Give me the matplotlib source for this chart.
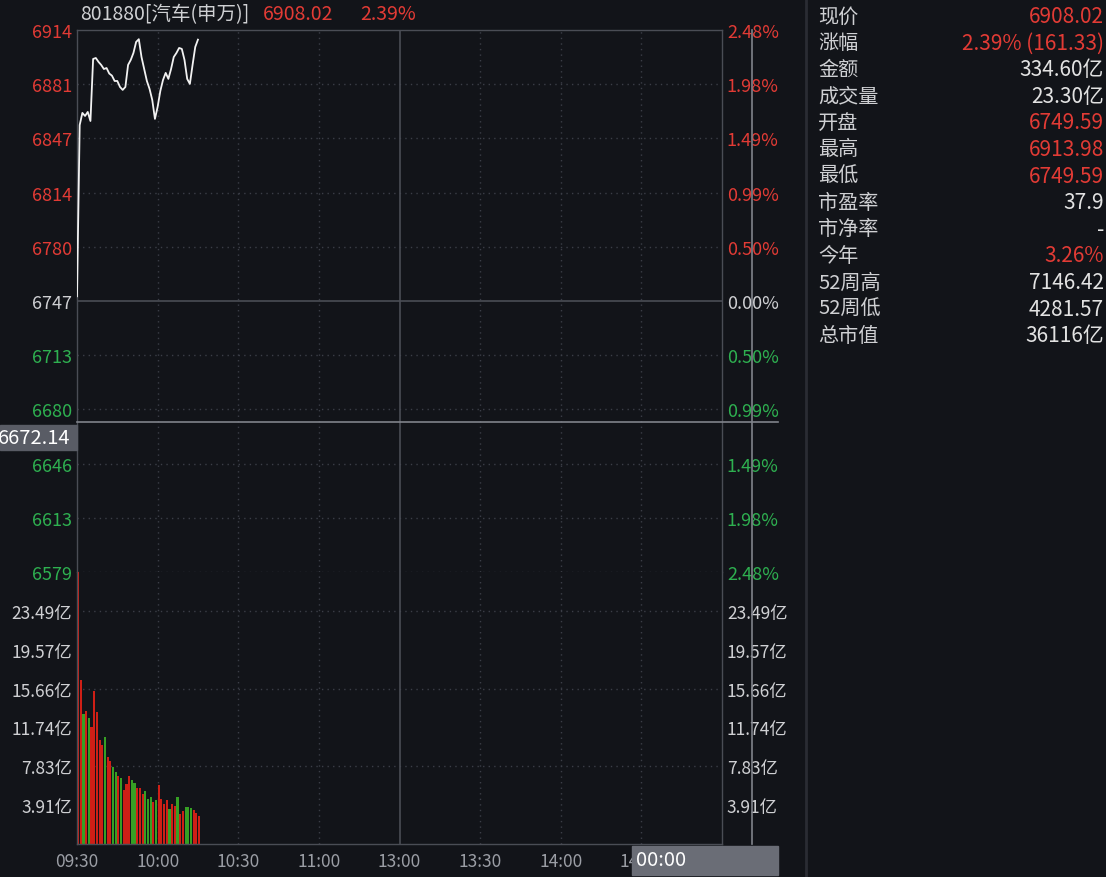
import matplotlib.pyplot as plt
import matplotlib.transforms as mtransforms
from matplotlib.lines import Line2D
from matplotlib.patches import Rectangle
import numpy as np

plt.rcParams['font.family'] = ['Noto Sans CJK SC', 'DejaVu Sans']

# ---- data ----
title_code = '801880[汽车(申万)]'
last_price = '6908.02'
last_change = '2.39%'
prev_close = 6746.69
grid_step_pct = 0.4959      # percent between two price grid lines
cursor_price = 6672.14
cursor_time = '00:00'

# one value per minute from 09:30
price = [6749.59, 6855.3, 6862.8, 6860.9, 6863.4, 6857.8, 6896.1, 6896.7, 6894.3, 6892.4,
         6889.9, 6890.5, 6887.1, 6885.8, 6882.5, 6882.5, 6878.8, 6877.0, 6878.8, 6892.4,
         6895.5, 6899.8, 6906.6, 6908.3, 6897.3, 6889.9, 6882.5, 6877.6, 6870.8, 6859.1,
         6866.5, 6876.3, 6883.1, 6887.5, 6883.8, 6889.9, 6897.3, 6899.8, 6902.9, 6902.3,
         6895.5, 6883.8, 6880.7, 6892.4, 6903.5, 6908.02]

# turnover per minute, 亿
turnover = [27.4, 16.5, 13.1, 13.4, 12.7, 11.8, 15.4, 13.3, 10.5, 10.0,
            10.8, 8.8, 8.4, 7.8, 7.3, 6.9, 6.6, 5.4, 6.0, 6.9,
            6.4, 6.1, 5.6, 5.6, 5.0, 5.3, 4.5, 4.7, 4.2, 4.4,
            5.9, 4.5, 4.0, 4.4, 3.5, 4.0, 3.8, 4.7, 3.0, 3.3,
            3.7, 3.7, 3.6, 3.4, 3.1, 2.8]
up = [1, 1, 0, 1, 0, 1, 1, 1, 1, 1,
      0, 1, 1, 0, 0, 1, 0, 1, 1, 1,
      0, 0, 1, 1, 1, 0, 0, 0, 1, 0,
      1, 1, 1, 1, 0, 1, 1, 0, 1, 1,
      0, 0, 0, 1, 1, 1]
vol_step = 3.9146

time_ticks = [0, 30, 60, 90, 120, 150, 180, 210]
time_labels = ['09:30', '10:00', '10:30', '11:00', '13:00', '13:30', '14:00', '14:30']

info_labels = ['现价', '涨幅', '金额', '成交量', '开盘', '最高', '最低',
               '市盈率', '市净率', '今年', '52周高', '52周低', '总市值']
info_values = ['6908.02', '2.39% (161.33)', '334.60亿', '23.30亿', '6749.59', '6913.98',
               '6749.59', '37.9', '-', '3.26%', '7146.42', '4281.57', '36116亿']
info_red = [1, 1, 0, 0, 1, 1, 1, 0, 0, 1, 0, 0, 0]

# ---- style ----
BG = '#121419'
RED = '#e23b35'
GREEN = '#2eb050'
TXT = '#cfd0d3'
GRID = '#3b3e47'
FRAME = '#4a4d55'
CROSS = '#80838b'
BAR_RED = '#cf1f16'
BAR_GREEN = '#36a024'

W, H = 1106, 878
fig = plt.figure(figsize=(W / 100, H / 100), dpi=100, facecolor=BG)


def rect(x0, y0, x1, y1):
    return [x0 / W, 1 - y1 / H, (x1 - x0) / W, (y1 - y0) / H]


ax_p = fig.add_axes(rect(77, 31, 722, 573))
ax_v = fig.add_axes(rect(77, 573, 722, 845), sharex=ax_p)
minutes = np.arange(len(price))

for ax in (ax_p, ax_v):
    ax.set_facecolor(BG)
    for s in ax.spines.values():
        s.set_color(FRAME)
        s.set_linewidth(1)
    ax.set_xlim(0, 240)
    ax.tick_params(length=0)
ax_p.spines['bottom'].set_visible(False)
ax_v.spines['top'].set_visible(False)

# ---- price panel ----
ks = np.arange(-5, 6)
p_ticks = prev_close * (1 + ks * grid_step_pct / 100)
ax_p.set_ylim(p_ticks[0], p_ticks[-1])
ax_p.set_yticks(p_ticks)
ax_p.set_yticklabels(['%.0f' % v for v in p_ticks])
ax_p.tick_params(axis='y', labelsize=13, pad=3.5)
ax_p.tick_params(axis='x', labelbottom=False)
for k, lab in zip(ks, ax_p.get_yticklabels()):
    lab.set_color(RED if k > 0 else (GREEN if k < 0 else TXT))

ax_r = ax_p.twinx()
ax_r.set_ylim(ax_p.get_ylim())
ax_r.set_yticks(p_ticks)
ax_r.set_yticklabels(['%.2f%%' % abs(k * grid_step_pct) for k in ks])
ax_r.tick_params(axis='y', length=0, labelsize=13, pad=3.5)
for s in ax_r.spines.values():
    s.set_visible(False)
for k, lab in zip(ks, ax_r.get_yticklabels()):
    lab.set_color(RED if k > 0 else (GREEN if k < 0 else TXT))

for v in p_ticks[1:-1]:
    if v != prev_close:
        ax_p.axhline(v, color=GRID, lw=1, ls=(0, (1, 3)), zorder=0)
ax_p.axhline(p_ticks[0], color=GRID, lw=1, ls=(0, (1, 3)), zorder=0)
ax_p.axhline(prev_close, color=FRAME, lw=1.2, zorder=1)
for t in time_ticks[1:]:
    if t == 120:
        ax_p.axvline(t, color=FRAME, lw=1.2, zorder=1)
        ax_v.axvline(t, color=FRAME, lw=1.2, zorder=1)
    else:
        ax_p.axvline(t, color=GRID, lw=1, ls=(0, (1, 3)), zorder=0)
        ax_v.axvline(t, color=GRID, lw=1, ls=(0, (1, 3)), zorder=0)

ax_p.plot(minutes, price, color='#f2f2f2', lw=1.3, zorder=3)

# ---- volume panel ----
ax_v.bar(minutes, turnover, width=0.8, align='edge',
         color=[BAR_RED if u else BAR_GREEN for u in up], zorder=2)
ax_v.set_ylim(0, 7 * vol_step)
v_ticks = [vol_step * k for k in range(1, 7)]
ax_v.set_yticks(v_ticks)
ax_v.set_yticklabels(['%.2f亿' % v for v in v_ticks])
ax_v.tick_params(axis='y', labelsize=12.5, pad=3.5, labelcolor=TXT)
for v in v_ticks[1::2]:
    ax_v.axhline(v, color=GRID, lw=1, ls=(0, (1, 3)), zorder=0)
ax_v.set_xticks(time_ticks)
ax_v.set_xticklabels(time_labels)
ax_v.tick_params(axis='x', labelsize=12.5, pad=6, labelcolor='#9b9ea5')

ax_vr = ax_v.twinx()
ax_vr.set_ylim(ax_v.get_ylim())
ax_vr.set_yticks(v_ticks)
ax_vr.set_yticklabels(['%.2f亿' % v for v in v_ticks])
ax_vr.tick_params(axis='y', length=0, labelsize=12.5, pad=3.5, labelcolor=TXT)
for s in ax_vr.spines.values():
    s.set_visible(False)

# ---- crosshair ----
tr = mtransforms.blended_transform_factory(ax_p.transAxes, ax_p.transData)
ax_p.plot([0, 701 / 645], [cursor_price, cursor_price], transform=tr,
          color=CROSS, lw=1.2, clip_on=False, zorder=4)
fig.add_artist(Line2D([752 / W, 752 / W], [1 - 31 / H, 1 - 845 / H],
                      color=CROSS, lw=1.2))
cy = ax_p.transData.transform((0, cursor_price))[1]   # pixels from bottom
fig.add_artist(Rectangle((0, (cy - 28) / H), 77 / W, 25 / H,
                         transform=fig.transFigure, color='#595c65', zorder=5))
fig.text(70 / W, (cy - 15.5) / H, '%.2f' % cursor_price, color='white',
         fontsize=14.5, ha='right', va='center', zorder=6)
fig.add_artist(Rectangle((632 / W, 1 - 876 / H), 146 / W, 29 / H,
                         transform=fig.transFigure, color='#6a6d76', zorder=5))
fig.text(636 / W, 1 - 861 / H, cursor_time, color='white',
         fontsize=14.5, ha='left', va='center', zorder=6)

# ---- header ----
fig.text(80 / W, 1 - 15 / H, title_code, color=TXT, fontsize=14, va='center')
fig.text(263 / W, 1 - 15 / H, last_price, color=RED, fontsize=14, va='center')
fig.text(360 / W, 1 - 15 / H, last_change, color=RED, fontsize=14, va='center')

# ---- right info panel ----
fig.add_artist(Line2D([806 / W, 806 / W], [0, 1], color='#2a2c33', lw=2))
for i, (lab, val, red) in enumerate(zip(info_labels, info_values, info_red)):
    y = 1 - (17 + i * 26.6) / H
    fig.text(818 / W, y, lab, color=TXT, fontsize=14.5, va='center')
    fig.text(1104 / W, y, val, color=RED if red else '#e2e2e2',
             fontsize=15, va='center', ha='right')

fig.savefig('out.png', dpi=100, facecolor=BG)
